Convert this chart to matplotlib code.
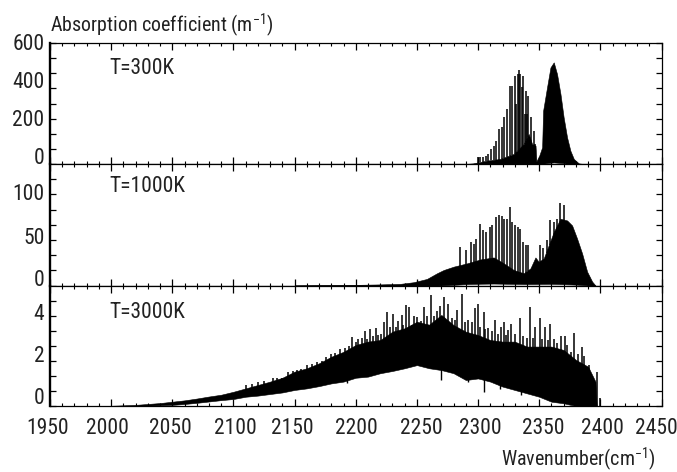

# CO2 absorption spectrum at three temperatures, three stacked panels
import numpy as np
import matplotlib
matplotlib.use('Agg')
import matplotlib.pyplot as plt
from matplotlib.ticker import MultipleLocator

plt.rcParams['font.family'] = ['Roboto Condensed', 'Liberation Sans', 'DejaVu Sans']
plt.rcParams['mathtext.default'] = 'regular'

W, H = 677, 472
INK = '#222222'

x_labels = [1950, 2000, 2050, 2100, 2150, 2200, 2250, 2300, 2350, 2400, 2450]
# the printed labels do not sit quite under their ticks (pixels)
x_label_shift = [-2, -4, -2, 2, -2, 1, 4, 2, 4, 2, -5]

# T=300K
wn_300 = [2290, 2296, 2307.3, 2318, 2329.2, 2337.3, 2341.4, 2344.2, 2347, 2347.7, 2350, 2352.4, 2353.2,
          2356.4, 2359.2, 2361.9, 2364.6, 2367.4, 2370, 2372.8, 2375.5, 2378.3, 2382.4, 2386]
upper_300 = [0, 3, 17, 25, 50, 99, 149, 99, 91, 13, 41, 83, 264,
             380, 479, 504, 446, 347, 231, 132, 66, 25, 3, 0]
lower_wn_300 = [2352, 2356, 2362, 2370, 2375]
lower_300 = [0, 4, 8, 4, 0]
spike_wn_300 = [2299.7, 2301.9, 2304, 2306.2, 2308.4, 2310.6, 2312.8, 2315, 2317.1, 2319.3, 2321.5, 2323.7,
                2325.9, 2328.1, 2330.2, 2331.3, 2332.4, 2333.5, 2334.6, 2335.7, 2336.8, 2338, 2339,
                2340, 2341.2, 2343.3, 2345.5, 2346.9]
spike_300 = [33, 33, 36, 41, 50, 74, 91, 116, 174, 182, 231, 273,
             388, 388, 438, 300, 446, 466, 446, 380, 438, 250, 364,
             250, 339, 231, 165, 99]

# T=1000K
wn_1000 = [2150, 2170, 2190, 2200, 2220, 2236.4, 2247.3, 2258.2, 2266.4, 2271.9, 2280.1, 2291, 2301.9, 2312.8,
           2321, 2329.2, 2337.3, 2342.8, 2346.9, 2349.6, 2353.7, 2357.8, 2361.9, 2367.3, 2372.8,
           2376.9, 2381, 2385.1, 2389.2, 2393.3, 2396]
upper_1000 = [0.1, 0.3, 0.6, 0.7, 1.2, 1.8, 3.6, 7.2, 13.4, 17, 20.7, 24.3, 28.6, 30.8,
              24.3, 17, 13.4, 18.8, 30.8, 26, 29.7, 44.2, 58.7, 73.2, 71.4,
              65.9, 51.4, 35.1, 15.2, 4.3, 0]
lower_wn_1000 = [2270, 2290, 2310, 2340, 2360, 2380, 2390]
lower_1000 = [0, 1.5, 2.2, 1.5, 1.8, 1, 0]
spike_wn_1000 = [2285.5, 2289.9, 2294.2, 2296.4, 2298.6, 2301.3, 2304, 2306.2, 2309.5, 2311.7, 2315, 2317.1,
                 2319.3, 2321.5, 2323.7, 2325.9, 2328.1, 2330.2, 2332.4, 2334.6, 2336.8, 2339, 2341.2,
                 2351, 2353.2, 2356.4, 2359.2, 2362.4, 2364.6, 2366.8, 2370.6]
spike_1000 = [42.4, 38.8, 47.8, 46, 51.4, 67.8, 60.5, 58.7, 64.1, 65.9, 75, 76.8,
              76, 73.2, 73.2, 85.9, 69.6, 66.7, 64.1, 61.6, 47.8, 44.2, 44.2,
              44.2, 40.6, 49.6, 71.4, 69.6, 73.2, 90.2, 88.8]

# T=3000K
wn_3000 = [2000, 2020, 2040, 2050, 2060, 2070, 2080, 2090, 2100, 2110, 2120, 2130, 2140, 2150, 2160, 2170,
           2180, 2190, 2200, 2210, 2220, 2230, 2240, 2250, 2260, 2270, 2280, 2290, 2300, 2310, 2320,
           2330, 2340, 2350, 2360, 2370, 2380, 2390, 2396, 2397]
upper_3000 = [0.01, 0.05, 0.13, 0.19, 0.25, 0.33, 0.42, 0.5, 0.63, 0.78, 0.93, 1.08, 1.25, 1.52, 1.67, 1.89,
              2.18, 2.4, 2.7, 2.85, 2.92, 3.29, 3.44, 3.73, 3.6, 4.03, 3.58, 3.29, 3.14, 2.92, 2.85,
              2.85, 2.63, 2.63, 2.63, 2.48, 2.04, 1.74, 1.08, 0]
lower_3000 = [0, 0.01, 0.03, 0.05, 0.09, 0.14, 0.2, 0.26, 0.31, 0.41, 0.46, 0.53, 0.6, 0.71, 0.78, 0.88,
              1.0, 1.08, 1.25, 1.3, 1.45, 1.55, 1.67, 1.81, 1.67, 1.59, 1.45, 1.15, 1.22, 1.08, 0.86,
              0.71, 0.56, 0.41, 0.19, 0.12, 0, 0, 0, 0]
spike_wn_3000 = [2132.6, 2135.9, 2139.4, 2149, 2155, 2168.6, 2179.5, 2187.2, 2194.5, 2197.2, 2202.1, 2207.3,
                 2211.7, 2216.3, 2218.5, 2223.1, 2225.6, 2230.2, 2234.9, 2237.9, 2240.9, 2243.6, 2247.7,
                 2255.9, 2261.6, 2266.2, 2269.2, 2272.2, 2275.6, 2278.4, 2283.1, 2286.9, 2289.3, 2292.1,
                 2294.8, 2297.5, 2300.2, 2304.9, 2308.4, 2313.9, 2318.8, 2321.5, 2324.2, 2327, 2334.3,
                 2342.5, 2346.6, 2350.7, 2354.8, 2358.9, 2364.3, 2367.6, 2370.9, 2378.8, 2384.8, 2397, 2399.7,
                 2110, 2115, 2120, 2125, 2145, 2152, 2160, 2164, 2172, 2176, 2183, 2191,
                 2200, 2205, 2209, 2214, 2221, 2228, 2233, 2239, 2246, 2250, 2253, 2258, 2264,
                 2281, 2302, 2306, 2311, 2316, 2323, 2330, 2337, 2340, 2345, 2352, 2357, 2362,
                 2373, 2376, 2382, 2387, 2391]
spike_3000 = [1.25, 1.25, 1.22, 1.55, 1.64, 1.96, 2.29, 2.53, 2.66, 3.07, 2.96, 3.32,
              3.41, 3.47, 3.14, 3.73, 4.15, 4.06, 3.76, 4.03, 4.47, 4.4, 4.0,
              4.4, 4.91, 4.2, 4.44, 4.82, 4.52, 3.88, 4.25, 4.94, 3.73, 3.8,
              3.73, 4.35, 4.5, 4.17, 3.44, 3.8, 3.51, 3.73, 3.36, 3.61, 3.91,
              4.4, 3.51, 3.88, 3.51, 3.61, 2.77, 3.11, 3.11, 3.22, 2.63, 1.52, 0.37,
              0.95, 0.98, 1.05, 1.12, 1.5, 1.58, 1.8, 1.85, 2.0, 2.15, 2.35, 2.55,
              2.85, 3.0, 2.95, 3.1, 3.2, 3.5, 3.5, 3.6, 3.6, 3.95, 3.75, 4.0, 4.0,
              3.8, 3.5, 3.4, 3.3, 3.2, 3.15, 3.2, 3.1, 3.0, 3.0, 2.95, 2.9, 2.95,
              2.7, 2.4, 2.3, 2.2, 1.8]
dip_wn_3000 = [2192.6, 2270, 2292, 2305, 2318, 2335]
dip_3000 = [1.0, 1.15, 1.05, 0.6, 0.75, 0.5]

panels = [
    dict(name='T=300K', wn=wn_300, upper=upper_300, lower_wn=lower_wn_300, lower=lower_300,
         spike_wn=spike_wn_300, spike=spike_300, top=600, step=75,
         labels=['600', '400', '200', '0'], label_y=[45, 82, 120, 158], px=(43, 164), name_y=69),
    dict(name='T=1000K', wn=wn_1000, upper=upper_1000, lower_wn=lower_wn_1000, lower=lower_1000,
         spike_wn=spike_wn_1000, spike=spike_1000, top=133.3, step=16.667,
         labels=['100', '50', '0'], label_y=[195, 239, 281], px=(164, 285.5), name_y=187),
    dict(name='T=3000K', wn=wn_3000, upper=upper_3000, lower_wn=wn_3000, lower=lower_3000,
         spike_wn=spike_wn_3000, spike=spike_3000, top=5.333, step=0.6667,
         labels=['4', '2', '0'], label_y=[314, 357, 399], px=(285.5, 406), name_y=312),
]

fig = plt.figure(figsize=(W / 100, H / 100), dpi=100)
left, right = 50 / W, 661.5 / W

for i, p in enumerate(panels):
    ax = fig.add_axes([left, 1 - p['px'][1] / H, right - left, (p['px'][1] - p['px'][0]) / H])
    ax.set_xlim(1950, 2450)
    ax.set_ylim(0, p['top'])

    # body of the band, then the single lines standing out of it
    lower_on_wn = np.interp(p['wn'], p['lower_wn'], p['lower'], left=0, right=0)
    ax.fill_between(p['wn'], lower_on_wn, p['upper'], color='black', lw=0.4)
    base = np.interp(p['spike_wn'], p['wn'], p['upper']) * 0.9
    ax.vlines(p['spike_wn'], base, p['spike'], color='black', lw=1.1)
    if i == 2:
        ax.vlines(dip_wn_3000, dip_3000, np.interp(dip_wn_3000, wn_3000, upper_3000) * 0.6,
                  color='black', lw=1.0)

    ax.xaxis.set_major_locator(MultipleLocator(50))
    ax.xaxis.set_minor_locator(MultipleLocator(10))
    ax.yaxis.set_major_locator(MultipleLocator(p['step']))
    ax.tick_params(axis='x', which='major', direction='in', top=True, length=5, width=0.9, labelbottom=False)
    ax.tick_params(axis='x', which='minor', direction='in', top=True, length=2.2, width=0.8)
    ax.tick_params(axis='y', which='major', direction='in', right=True, length=4, width=0.9, labelleft=False)
    for side in ax.spines.values():
        side.set_linewidth(0.9)
    ax.spines['left'].set_linewidth(1.7)

    fig.text(109 / W, 1 - p['name_y'] / H, p['name'], fontsize=15.5, color=INK, va='center', ha='left')
    for lab, ly in zip(p['labels'], p['label_y']):
        fig.text(44.5 / W, 1 - ly / H, lab, fontsize=15.5, color=INK, ha='right', va='center')

    if i == 2:
        for val, shift in zip(x_labels, x_label_shift):
            ax.annotate(str(val), xy=(val, 0), xytext=(shift, -22), textcoords='offset pixels',
                        ha='center', va='center', fontsize=15.5, color=INK, annotation_clip=False)

fig.text(50 / W, 1 - 25 / H, 'Absorption coefficient (m$^{-1}$)', fontsize=14.4, color=INK, ha='left', va='center')
fig.text(656 / W, 1 - 459 / H, 'Wavenumber(cm$^{-1}$)', fontsize=14.4, color=INK, ha='right', va='center')

fig.savefig('out.png', dpi=100)
